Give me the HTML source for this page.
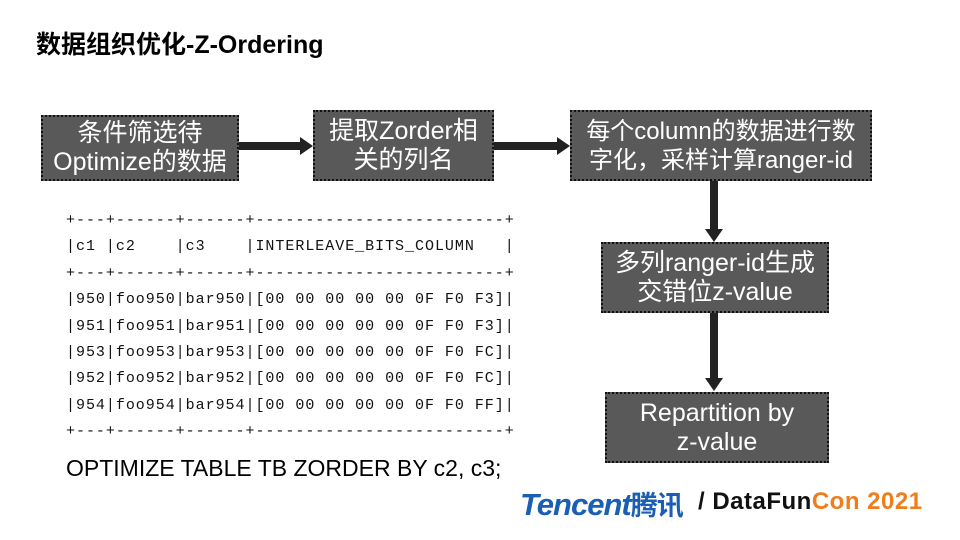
<html><head><style>
body{margin:0;width:960px;height:540px;background:#fff;position:relative;font-family:"Liberation Sans","Noto Sans CJK SC",sans-serif;overflow:hidden}
.t{position:absolute;left:36px;top:25px;font-size:25px;font-weight:bold;color:#000}
.b{position:absolute;background:#595959;border:2px dotted #111;box-sizing:border-box;color:#fff;font-size:25px;line-height:29px;text-align:center;display:flex;align-items:center;justify-content:center}
pre{position:absolute;left:66px;top:208px;margin:0;font-family:"Liberation Mono",monospace;font-size:15px;line-height:26.4px;letter-spacing:0.97px;color:#111}
.q{position:absolute;left:66px;top:455px;font-size:23px;color:#000}
</style></head><body>
<div class="t">数据组织优化-Z-Ordering</div>
<div class="b" style="left:41px;top:115px;width:198px;height:66px">条件筛选待<br>Optimize的数据</div>
<div class="b" style="left:313px;top:110px;width:181px;height:71px">提取Zorder相<br>关的列名</div>
<div class="b" style="left:570px;top:110px;width:302px;height:71px;font-size:24px">每个column的数据进行数<br>字化，采样计算ranger-id</div>
<div class="b" style="left:601px;top:242px;width:228px;height:71px">多列ranger-id生成<br>交错位z-value</div>
<div class="b" style="left:605px;top:392px;width:224px;height:71px">Repartition by<br>z-value</div>
<svg width="960" height="540" style="position:absolute;left:0;top:0">
<g fill="#222">
<rect x="239" y="142" width="62" height="8"/><polygon points="300,137 313,146 300,155"/>
<rect x="494" y="142" width="64" height="8"/><polygon points="557,137 570,146 557,155"/>
<rect x="710" y="181" width="8" height="49"/><polygon points="705,229 714,242 723,229"/>
<rect x="710" y="313" width="8" height="66"/><polygon points="705,378 714,391 723,378"/>
</g></svg>
<pre>+---+------+------+-------------------------+
|c1 |c2    |c3    |INTERLEAVE_BITS_COLUMN   |
+---+------+------+-------------------------+
|950|foo950|bar950|[00 00 00 00 00 0F F0 F3]|
|951|foo951|bar951|[00 00 00 00 00 0F F0 F3]|
|953|foo953|bar953|[00 00 00 00 00 0F F0 FC]|
|952|foo952|bar952|[00 00 00 00 00 0F F0 FC]|
|954|foo954|bar954|[00 00 00 00 00 0F F0 FF]|
+---+------+------+-------------------------+</pre>
<div class="q">OPTIMIZE TABLE TB ZORDER BY c2, c3;</div>
<div style="position:absolute;left:520px;top:484px;font-size:31px;font-weight:bold;font-style:italic;color:#1a5fb4;letter-spacing:-1px">Tencent<span style="font-style:normal;font-size:27px">腾讯</span></div>
<div style="position:absolute;left:698px;top:488px;font-size:24px;font-weight:bold;color:#111;letter-spacing:0.5px">/ DataFun<span style="color:#f07d1a">Con 2021</span></div>
</body></html>
